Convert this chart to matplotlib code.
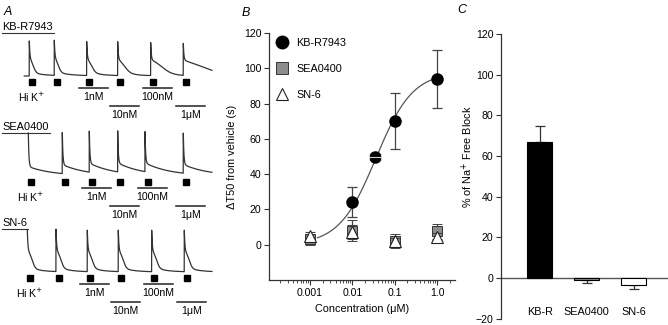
import matplotlib
matplotlib.use("Agg")
import matplotlib.pyplot as plt
from matplotlib.lines import Line2D
import numpy as np

plt.rcParams['font.family'] = ['Liberation Sans', 'DejaVu Sans']

W, H = 668, 325

# ---------------- panel A (schematic Ca traces) ----------------
DRUGS = ["KB-R7943", "SEA0400", "SN-6"]
PULSE_T = [[29.3, 54.3, 86.7, 117.7, 150.7, 183.3],
           [28.3, 62.3, 89.3, 117.7, 145.0, 183.3],
           [27.3, 56.0, 87.3, 118.3, 151.7, 184.3]]
PEAK = [[36, 36, 35, 35, 34, 33],
        [43, 41, 41, 41, 40, 40],
        [43, 43, 42, 42, 42, 42]]
T50 = [[4, 4, 5, 7, 12, 24],
       [1, 1, 1, 1, 1, 1],
       [5, 5, 5, 5, 5, 5]]
WIDTH = [[1.5, 1.5, 2, 3, 5, 10],
         [1, 1, 1, 1, 1, 1],
         [1.5, 1.5, 1.5, 1.5, 1.5, 1.5]]
SPIKE_FRAC = [0.5, 0.78, 0.5]
SHOULDER_FRAC = [0.4, 0.0, 0.38]
TAIL_FRAC = [0.1, 0.22, 0.12]
TAIL_TAU = [15, 25, 12]
CONC_LABELS = ["1nM", "10nM", "100nM", "1\u03bcM"]

# ---------------- panel B (dose response) ----------------
CONC = [0.001, 0.01, 0.1, 1.0]
KB_CONC = [0.01, 0.035, 0.1, 1.0]
KB_MEAN = [24, 50, 70, 94]
KB_SEM = [8.5, 1.0, 16, 16.5]
KB_MID_XERR = (0.010, 0.013)
SEA_MEAN = [3, 8, 2, 7.5]
SEA_SEM = [3, 6, 4, 4.5]
SN6_MEAN = [5, 7, 2, 4.5]
SN6_SEM = [2, 4, 2, 2]
HILL_TOP, HILL_EC50, HILL_N = 98, 0.036, 1.0
FIT_LO, FIT_HI = 0.0015, 1.0

# ---------------- panel C (bars) ----------------
C_LABELS = ["KB-R", "SEA0400", "SN-6"]
C_MEAN = [67, -1, -3.5]
C_SEM = [8, 1.5, 2]
C_COLORS = ["black", "#8c8c8c", "white"]

fig = plt.figure(figsize=(W / 100, H / 100), dpi=100)

# full-figure pixel axes for panel A and panel letters
axa = fig.add_axes([0, 0, 1, 1])
axa.set_xlim(0, W)
axa.set_ylim(H, 0)
axa.axis("off")

ROW_BASE = [76, 176, 272]
TRACE_END = 212
SQ_SHIFT = 2.5
FS_A = 7.6
titles = []
for r, name in enumerate(DRUGS):
    base = ROW_BASE[r]
    t = np.arange(PULSE_T[r][0] - (5 if r == 0 else 0), TRACE_END, 0.1)
    y = np.zeros_like(t)
    for k, t0 in enumerate(PULSE_T[r]):
        dt = t - t0
        on = dt >= 0
        d = np.where(on, dt, 0)
        shape = (SPIKE_FRAC[r] * np.exp(-d / 0.6)
                 + SHOULDER_FRAC[r] / (1 + np.exp((d - T50[r][k]) / WIDTH[r][k]))
                 + TAIL_FRAC[r] * np.exp(-d / TAIL_TAU[r]))
        y += np.where(on, PEAK[r][k] * shape, 0)
    axa.plot(t, base - y, color="#333333", lw=0.9)

    sq = [p + SQ_SHIFT for p in PULSE_T[r]]
    axa.plot(sq, [base + 6] * len(sq), "s", ms=3.8, color="black")
    axa.text(sq[0], base + 21, "Hi K$^{+}$", ha="center", va="center", fontsize=FS_A)

    for i, lab in enumerate(CONC_LABELS):
        x0 = sq[i + 2] - 10
        lower = i % 2 == 1
        yb = base + (30 if lower else 12)
        axa.plot([x0, x0 + 29], [yb, yb], color="#222222", lw=1.1)
        axa.text(x0 + 14.5, yb + 9.5, lab, ha="center", va="center", fontsize=FS_A)

    titles.append(axa.text(2.5, base - 49, name, ha="left", va="center", fontsize=7.9))

for lab, x, y in [("A", 8, 12), ("B", 246, 13), ("C", 462, 10)]:
    axa.text(x, y, lab, ha="center", va="center", fontsize=9, style="italic")

# ---------------- panel B ----------------
axb = fig.add_axes([269 / W, (H - 280) / H, (455 - 269) / W, (280 - 33) / H])
axb.set_xscale("log")
axb.set_xlim(10 ** (-3 - (310 - 269) / 42.3), 10 ** ((455 - 437) / 42.3))
axb.set_ylim(-20, 120)

xf = np.logspace(np.log10(FIT_LO), np.log10(FIT_HI), 200)
yf = HILL_TOP * xf ** HILL_N / (HILL_EC50 ** HILL_N + xf ** HILL_N)
axb.plot(xf, yf, color="#555555", lw=0.9, zorder=2)

axb.errorbar(KB_CONC, KB_MEAN, yerr=KB_SEM, fmt="o", ms=8, mfc="black", mec="black",
             ecolor="#444444", elinewidth=0.9, capsize=3.5, capthick=0.9, zorder=3)
axb.errorbar([KB_CONC[1]], [KB_MEAN[1]], xerr=[[KB_MID_XERR[0]], [KB_MID_XERR[1]]],
             fmt="none", ecolor="#d0d0d0", elinewidth=0.8, capsize=2.5, capthick=0.8,
             zorder=4)
axb.errorbar(CONC, SEA_MEAN, yerr=SEA_SEM, fmt="s", ms=7.5, mfc="#8c8c8c", mec="#333333",
             mew=0.7, ecolor="#444444", elinewidth=0.9, capsize=3.5, capthick=0.9, zorder=3)
axb.errorbar(CONC, SN6_MEAN, yerr=SN6_SEM, fmt="^", ms=8, mfc="white", mec="#222222",
             mew=0.8, ecolor="#444444", elinewidth=0.9, capsize=3.5, capthick=0.9, zorder=4)

handles = [Line2D([], [], ls="none", marker="o", ms=9, mfc="black", mec="black"),
           Line2D([], [], ls="none", marker="s", ms=8, mfc="#8c8c8c", mec="#333333", mew=0.7),
           Line2D([], [], ls="none", marker="^", ms=9, mfc="white", mec="#222222", mew=0.8)]
axb.legend(handles, ["KB-R7943", "SEA0400", "SN-6"], loc="upper left",
           bbox_to_anchor=(0.0, 1.01), frameon=False, fontsize=7.8, handlelength=1.0,
           handletextpad=0.8, labelspacing=1.45, borderaxespad=0.3)

axb.set_xticks(CONC)
axb.set_xticklabels(["0.001", "0.01", "0.1", "1.0"])
axb.set_yticks(range(0, 121, 20))
axb.set_xlabel("Concentration (\u03bcM)", fontsize=7.8)
axb.xaxis.set_label_coords(0.5, -0.097)
axb.set_ylabel("\u0394T50 from vehicle (s)", fontsize=7.8)
axb.yaxis.set_label_coords(-0.172, 0.5)

# ---------------- panel C ----------------
axc = fig.add_axes([501 / W, (H - 318.7) / H, (668 - 501) / W, (318.7 - 34) / H])
xc = np.arange(len(C_LABELS))
axc.bar(xc, C_MEAN, width=0.53, color=C_COLORS, edgecolor="black", lw=0.8, zorder=3)
lo = [s if m < 0 else 0 for m, s in zip(C_MEAN, C_SEM)]
hi = [s if m >= 0 else 0 for m, s in zip(C_MEAN, C_SEM)]
axc.errorbar(xc, C_MEAN, yerr=[lo, hi], fmt="none", ecolor="#333333", elinewidth=0.9,
             capsize=3.5, capthick=0.9, zorder=2)
axc.axhline(0, color="#555555", lw=1.0, zorder=1)
axc.set_xlim(-0.82, 2.73)
axc.set_ylim(-20, 120)
axc.set_yticks(range(-20, 121, 20))
axc.set_xticks([])
axc.spines["bottom"].set_visible(False)
for x, lab in zip(xc, C_LABELS):
    axc.text(x, -16.7, lab, ha="center", va="center", fontsize=7.8)
axc.set_ylabel("% of Na$^{+}$ Free Block", fontsize=7.8)
axc.yaxis.set_label_coords(-0.156, 0.568)

for ax in (axb, axc):
    for s in ("top", "right"):
        ax.spines[s].set_visible(False)
    for s in ("left", "bottom"):
        ax.spines[s].set_linewidth(0.9)
        ax.spines[s].set_color("#333333")
    ax.tick_params(which="major", length=3.5, width=0.8, color="#333333", labelsize=7.6, pad=2)
    ax.tick_params(which="minor", length=2, width=0.6, color="#333333")
    ax.patch.set_alpha(0)

# underline panel A row titles
fig.canvas.draw()
inv = axa.transData.inverted()
for txt in titles:
    bb = txt.get_window_extent()
    (x0, _), (x1, _) = inv.transform([(bb.x0, bb.y0), (bb.x1, bb.y0)])
    yline = inv.transform([(0, bb.y0)])[0][1] + 0.8
    axa.plot([x0 - 0.5, x1 + 0.5], [yline, yline], color="#333333", lw=0.8)

fig.savefig("out.png", dpi=100)
